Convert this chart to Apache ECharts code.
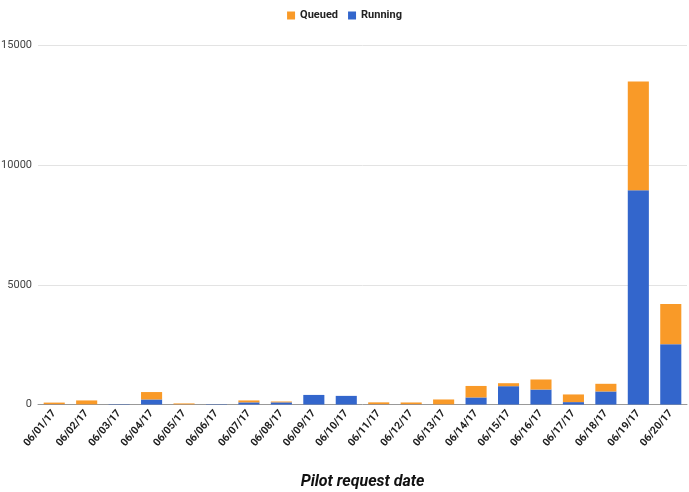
<!DOCTYPE html>
<html>
<head>
<meta charset="utf-8">
<script src="https://cdn.jsdelivr.net/npm/echarts@6/dist/echarts.min.js"></script>
<style>
  html, body { margin: 0; padding: 0; background: #fff; }
  #chart { width: 689px; height: 492px; }
</style>
</head>
<body>
<div id="chart"></div>
<script>
// dates on the x axis
var dates = ['06/01/17', '06/02/17', '06/03/17', '06/04/17', '06/05/17', '06/06/17', '06/07/17',
  '06/08/17', '06/09/17', '06/10/17', '06/11/17', '06/12/17', '06/13/17', '06/14/17',
  '06/15/17', '06/16/17', '06/17/17', '06/18/17', '06/19/17', '06/20/17'];
// running pilots (bottom of stack)
var running = [10, 5, 15, 210, 5, 15, 90, 90, 400, 360, 10, 10, 5, 295, 765, 625, 100, 545, 8950, 2520];
// queued pilots (top of stack)
var queued = [70, 165, 0, 310, 40, 0, 80, 35, 0, 0, 80, 75, 205, 480, 125, 420, 320, 320, 4550, 1680];
var yTicks = [0, 5000, 10000, 15000];

var myChart = echarts.init(document.getElementById('chart'));
var option = {
  animation: false,
  legend: {
    data: ['Queued', 'Running'],
    top: 5,
    left: 'center',
    itemWidth: 8,
    itemHeight: 8,
    itemGap: 10,
    icon: 'rect',
    textStyle: { fontSize: 11, fontWeight: 'bold', color: '#222', fontFamily: 'Roboto' }
  },
  grid: { left: 38, right: 2, top: 45.5, bottom: 87.5, outerBoundsMode: 'none', containLabel: false },
  xAxis: {
    type: 'category',
    data: dates,
    name: 'Pilot request date',
    nameLocation: 'middle',
    nameGap: 69,
    nameTextStyle: { fontSize: 16, fontWeight: 'bold', fontStyle: 'italic', color: '#111', fontFamily: 'Roboto' },
    axisTick: { show: false },
    axisLine: { lineStyle: { color: '#999', width: 1 } },
    axisLabel: {
      interval: 0,
      rotate: 50,
      margin: 7,
      fontSize: 10.5,
      fontWeight: 'bold',
      color: '#222',
      fontFamily: 'Roboto'
    }
  },
  yAxis: {
    type: 'value',
    min: yTicks[0],
    max: yTicks[yTicks.length - 1],
    interval: 5000,
    axisLine: { show: false },
    axisTick: { show: false },
    splitLine: { lineStyle: { color: '#e3e3e3' } },
    axisLabel: {
      fontSize: 11, color: '#444', margin: 6, fontFamily: 'Roboto',
      formatter: function (v) { return String(v); }
    }
  },
  series: [
    {
      name: 'Running',
      type: 'bar',
      stack: 'total',
      barCategoryGap: '35%',
      itemStyle: { color: '#3366cc' },
      data: running
    },
    {
      name: 'Queued',
      type: 'bar',
      stack: 'total',
      barCategoryGap: '35%',
      itemStyle: { color: '#f99a28' },
      data: queued
    }
  ]
};
myChart.setOption(option);
</script>
</body>
</html>
